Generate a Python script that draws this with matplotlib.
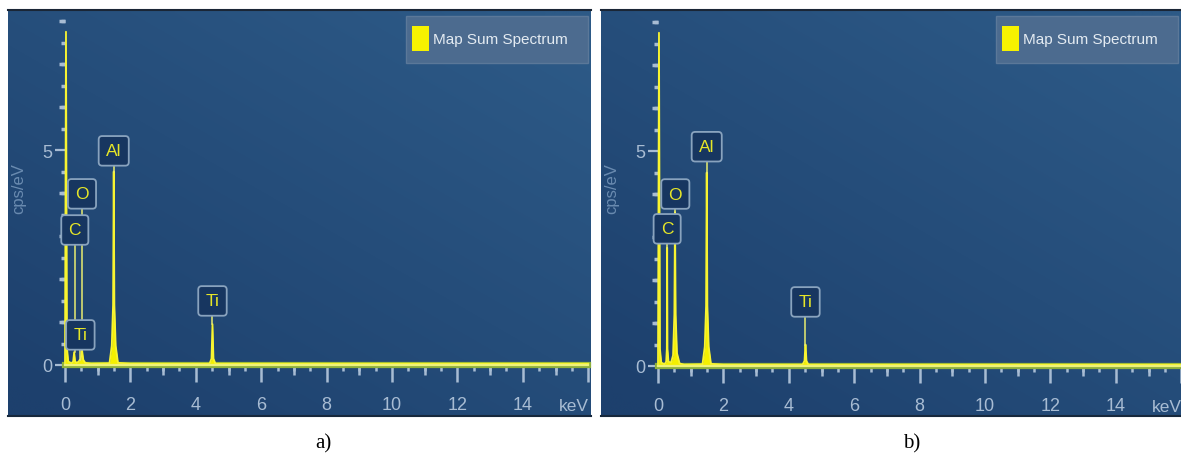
import numpy as np
import matplotlib
matplotlib.use("Agg")
import matplotlib.pyplot as plt
from matplotlib import font_manager
from matplotlib.patches import Rectangle
from matplotlib.ticker import MultipleLocator

# spectrum a) (keV, cps/eV)
energy_a = [0.00, 0.03, 0.06, 0.10, 0.20, 0.25, 0.28, 0.31, 0.36, 0.42, 0.45, 0.48,
            0.52, 0.56, 0.62, 0.80, 1.36, 1.43, 1.47, 1.49, 1.51, 1.55, 1.62, 2.00,
            4.42, 4.48, 4.51, 4.54, 4.60, 16.0]
counts_a = [0.00, 7.75, 0.40, 0.08, 0.04, 0.08, 0.30, 0.08, 0.05, 0.08, 0.12, 0.12,
            0.35, 0.12, 0.05, 0.03, 0.04, 0.45, 1.40, 4.50, 1.40, 0.45, 0.05, 0.03,
            0.03, 0.15, 0.95, 0.15, 0.03, 0.03]

# spectrum b)
energy_b = [0.00, 0.03, 0.06, 0.10, 0.20, 0.25, 0.27, 0.28, 0.29, 0.32, 0.40, 0.46,
            0.50, 0.52, 0.54, 0.58, 0.66, 0.80, 1.36, 1.43, 1.47, 1.49, 1.51, 1.55,
            1.62, 2.00, 4.42, 4.48, 4.50, 4.51, 4.52, 4.54, 4.60, 16.0]
counts_b = [0.00, 7.75, 0.40, 0.08, 0.04, 0.10, 0.40, 2.75, 0.40, 0.10, 0.08, 0.25,
            1.20, 3.58, 1.20, 0.30, 0.06, 0.03, 0.04, 0.45, 1.40, 4.50, 1.40, 0.45,
            0.05, 0.03, 0.03, 0.12, 0.40, 0.50, 0.40, 0.12, 0.03, 0.03]

# element labels: name, energy, box centre height, peak top
names_a = ["C", "O", "Ti", "Al", "Ti"]
lab_e_a = [0.30, 0.52, 0.47, 1.49, 4.51]
lab_y_a = [3.14, 3.98, 0.70, 4.98, 1.49]
peak_a = [0.30, 0.35, 0.12, 4.50, 0.95]

names_b = ["C", "O", "Al", "Ti"]
lab_e_b = [0.28, 0.53, 1.49, 4.51]
lab_y_b = [3.19, 4.00, 5.10, 1.49]
peak_b = [2.75, 3.58, 4.50, 0.50]

x_major = [0, 2, 4, 6, 8, 10, 12, 14, 16]
x_labels = ["0", "2", "4", "6", "8", "10", "12", "14", ""]
x_mid = [1, 3, 5, 7, 9, 11, 13, 15]
y_major = [0, 5]
y_mid = [1, 2, 3, 4, 6, 7, 8]

W, H = 1181, 456
PX_KEV = 32.7
PX_CPS = 43.0

names = {f.name for f in font_manager.fontManager.ttflist}
narrow = "Liberation Sans Narrow" if "Liberation Sans Narrow" in names else "Liberation Sans"
plt.rcParams["font.family"] = [narrow, "DejaVu Sans"]

YELLOW = "#f4f000"
TICK = "#a8bcd3"
dark = np.array([0x1d, 0x40, 0x6d]) / 255
light = np.array([0x2d, 0x5a, 0x87]) / 255

fig = plt.figure(figsize=(W / 100, H / 100), dpi=100)
bg = fig.add_axes([0, 0, 1, 1])
bg.set_xlim(0, W)
bg.set_ylim(H, 0)
bg.axis("off")

u, v = np.meshgrid(np.linspace(0, 1, 120), np.linspace(0, 1, 60))
t = np.clip(0.5 * u + 0.6 * (1 - v) - 0.05, 0, 1)
grad = dark + (light - dark) * t[..., None]


def panel(pl, pr, x0, y0, energy, counts, lab_names, lab_e, lab_y, peaks, caption, cap_x):
    bg.imshow(grad, extent=(pl, pr, 418, 10), aspect="auto", interpolation="bilinear", zorder=0)
    bg.plot([pl, pr], [10.5, 10.5], color="#1a2636", lw=1.5, zorder=1)
    bg.plot([pl, pr], [417.5, 417.5], color="#17283c", lw=1.5, zorder=1)

    # legend box
    lx1 = pr - 3
    lx0 = lx1 - 182
    bg.add_patch(Rectangle((lx0, 17), lx1 - lx0, 47, fc="#4c6b8f", ec="#5b7899", lw=1, zorder=2))
    bg.add_patch(Rectangle((lx0 + 6, 27), 17, 25, fc="#f6f200", ec="none", zorder=3))
    bg.text(lx0 + 27, 40, "Map Sum Spectrum", color="#e4ebf2", fontsize=11,
            va="center", ha="left", zorder=3)

    bg.text(cap_x, 444, caption, family=["Liberation Serif"], fontsize=15,
            ha="center", va="center", color="black")

    ax = fig.add_axes([x0 / W, 1 - y0 / H, 16 * PX_KEV / W, (y0 - 10) / H])
    ax.set_facecolor("none")
    ax.set_xlim(0, 16)
    ax.set_ylim(0, (y0 - 10) / PX_CPS)
    for s in ax.spines.values():
        s.set_visible(False)

    ax.axhline(0, color="#8fb03c", lw=4.5, zorder=2, clip_on=False)
    ax.fill_between(energy, counts, 0, color=YELLOW, lw=0, zorder=3)
    ax.plot(energy, counts, color="#f8f430", lw=1.3, zorder=4, clip_on=False)
    ax.axhline(0, color="#eef27a", lw=1.6, zorder=4, clip_on=False)

    for nm, e, ly, py in zip(lab_names, lab_e, lab_y, peaks):
        ax.plot([e, e], [py, ly - 0.3], color="#e8ec70", lw=1.1, zorder=5)
        ax.text(e, ly, nm, color="#e6e628", fontsize=12.5, ha="center", va="center", zorder=6,
                bbox=dict(boxstyle="round,pad=0.42,rounding_size=0.2", fc="#173660",
                          ec="#89a3be", lw=1.3))

    ax.set_xticks(x_major)
    ax.set_xticklabels(x_labels)
    ax.xaxis.set_minor_locator(MultipleLocator(0.5))
    ax.tick_params(axis="x", which="major", length=12, width=1.8, color=TICK, pad=10,
                   labelsize=13, labelcolor=TICK)
    ax.tick_params(axis="x", which="minor", length=4, width=1.8, color=TICK)
    sx = ax.secondary_xaxis("bottom")
    sx.set_xticks(x_mid)
    sx.tick_params(length=7.5, width=1.8, color=TICK, labelbottom=False)
    sx.spines["bottom"].set_visible(False)

    ax.set_yticks(y_major)
    ax.yaxis.set_minor_locator(MultipleLocator(0.5))
    ax.tick_params(axis="y", which="major", length=7, width=1.6, color=TICK, pad=2,
                   labelsize=13, labelcolor=TICK)
    ax.tick_params(axis="y", which="minor", length=3, width=2.5, color=TICK)
    sy = ax.secondary_yaxis("left")
    sy.set_yticks(y_mid)
    sy.tick_params(length=4.5, width=2.5, color=TICK, labelleft=False)
    sy.spines["left"].set_visible(False)

    ax.set_ylabel("cps/eV", color="#6a8bb0", fontsize=12)
    ax.yaxis.set_label_coords(-39 / (16 * PX_KEV), (y0 - 189) / (y0 - 10))

    ax.annotate("keV", xy=(15.55, 0), xycoords=("data", "axes fraction"),
                xytext=(0, -29), textcoords="offset points", ha="center", va="center",
                fontsize=12.5, color=TICK)
    return ax


panel(8, 591, 65, 366, energy_a, counts_a, names_a, lab_e_a, lab_y_a, peak_a, "a)", 323)
panel(601, 1181, 658, 367, energy_b, counts_b, names_b, lab_e_b, lab_y_b, peak_b, "b)", 912)

fig.savefig("out.png", dpi=100, facecolor="white")
